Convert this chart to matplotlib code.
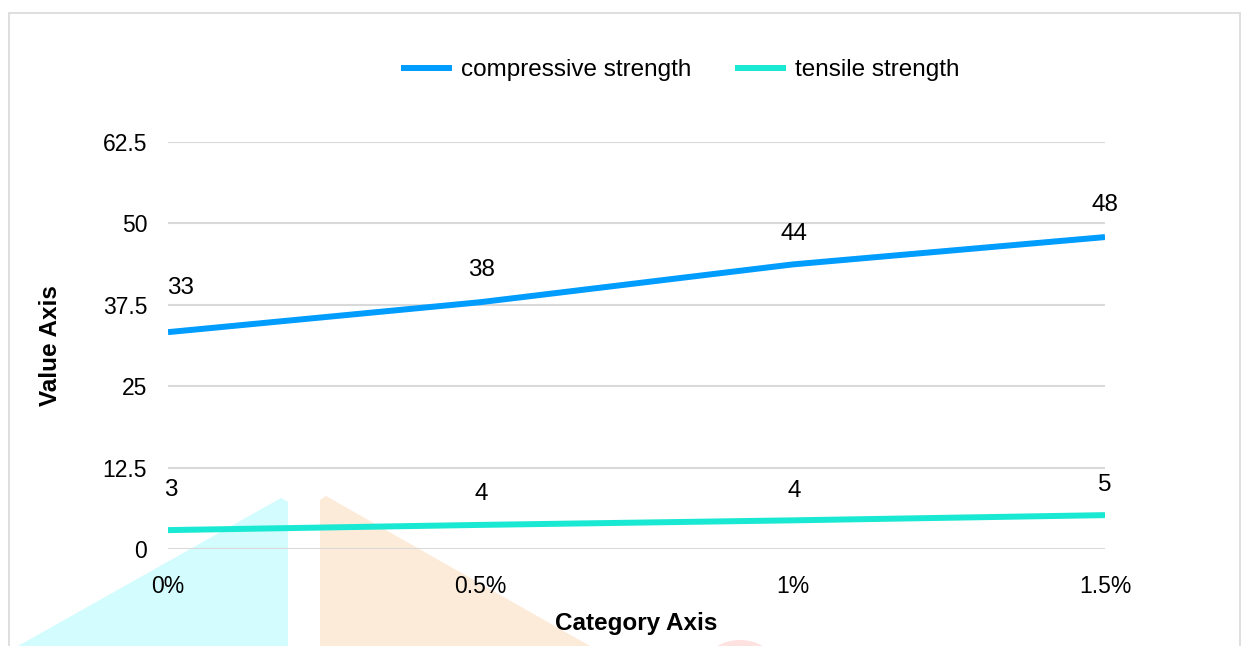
import matplotlib
matplotlib.use("Agg")
import matplotlib.pyplot as plt
from matplotlib.patches import Polygon, Rectangle, Ellipse

plt.rcParams['font.family'] = ['Liberation Sans', 'DejaVu Sans']

categories = ["0%", "0.5%", "1%", "1.5%"]
compressive = [33.3, 37.9, 43.7, 47.9]
tensile = [2.9, 3.7, 4.4, 5.2]
y_ticks = [0, 12.5, 25, 37.5, 50, 62.5]
y_tick_labels = ["0", "12.5", "25", "37.5", "50", "62.5"]

W, H = 1248, 646
fig = plt.figure(figsize=(W / 100, H / 100), dpi=100)
fig.patch.set_facecolor('white')

# faint background watermark shapes (figure pixel space)
def px(x, y):
    return (x / W, 1 - y / H)

fig.patches.append(Polygon([px(18, 646), px(281, 498), px(288, 502), px(288, 646)],
                           closed=True, transform=fig.transFigure, facecolor='#D2FCFD',
                           edgecolor='none', zorder=-5))
fig.patches.append(Polygon([px(320, 646), px(320, 500), px(326, 496), px(590, 646)],
                           closed=True, transform=fig.transFigure, facecolor='#FDEBDA',
                           edgecolor='none', zorder=-5))
fig.patches.append(Ellipse(px(740, 662), 66 / W, 44 / H, transform=fig.transFigure,
                           facecolor='#FDE2E0', edgecolor='none', zorder=-5))
# chart border
fig.patches.append(Rectangle(px(9, 660), (1240 - 9) / W, (660 - 13) / H,
                             transform=fig.transFigure, facecolor='none',
                             edgecolor='#D9D9D9', linewidth=1.2, zorder=-4))

ax = fig.add_axes([168 / W, 1 - 549 / H, (1105 - 168) / W, (549 - 142) / H])
ax.patch.set_alpha(0)
ax.set_zorder(2)

x = list(range(len(categories)))
l1, = ax.plot(x, compressive, color='#009DFF', linewidth=4.3, solid_capstyle='butt',
              label='compressive strength', zorder=3)
l2, = ax.plot(x, tensile, color='#19E8D2', linewidth=4.3, solid_capstyle='butt',
              label='tensile strength', zorder=3)

FS = 17.5
# data labels
comp_offsets = [(9, 32), (1, 23), (1, 22), (0, 23)]
tens_offsets = [(2, 29), (1, 22), (1, 21), (0, 22)]
for xi, v, off in zip(x, compressive, comp_offsets):
    ax.annotate(f"{v:.0f}", (xi, v), xytext=off, textcoords='offset points',
                ha='center', va='center', fontsize=FS, color='#000000', clip_on=False)
for xi, v, off in zip(x, tensile, tens_offsets):
    ax.annotate(f"{v:.0f}", (xi, v), xytext=off, textcoords='offset points',
                ha='center', va='center', fontsize=FS, color='#000000', clip_on=False)

ax.set_xlim(0, len(categories) - 1)
ax.set_ylim(0, 62.5)
ax.set_yticks(y_ticks)
ax.set_yticklabels(y_tick_labels)
ax.set_xticks(x)
ax.set_xticklabels(categories)
ax.grid(axis='y', color='#D9D9D9', linewidth=1.5, zorder=1)
ax.set_axisbelow(True)
for s in ax.spines.values():
    s.set_visible(False)
ax.tick_params(axis='both', length=0, labelsize=16.5, colors='#000000')
ax.tick_params(axis='y', pad=15)
ax.tick_params(axis='x', pad=19)

ax.set_xlabel('Category Axis', fontsize=FS, fontweight='bold', labelpad=10)
ax.set_ylabel('Value Axis', fontsize=FS, fontweight='bold', labelpad=29)

fig.legend(handles=[l1, l2], loc='center', bbox_to_anchor=(680 / W, 1 - 70 / H),
           ncol=2, frameon=False, fontsize=FS, handlelength=2.1, handletextpad=0.37,
           columnspacing=1.8)

fig.savefig('out.png', dpi=100, facecolor='white')
